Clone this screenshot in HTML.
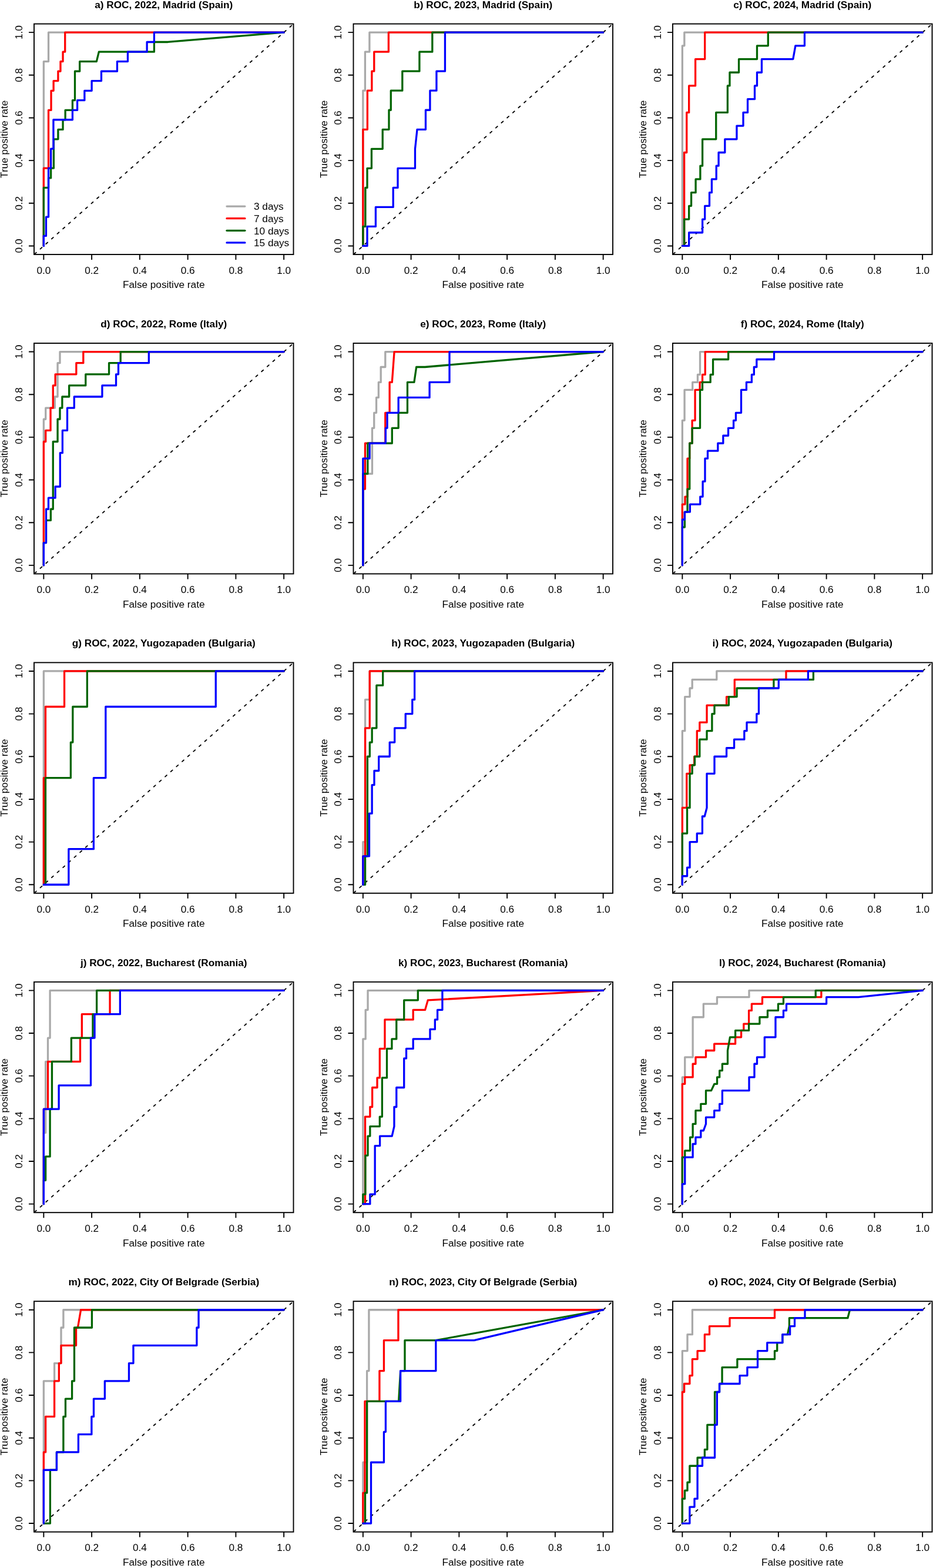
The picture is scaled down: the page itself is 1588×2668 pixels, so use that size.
<!DOCTYPE html><html><head><meta charset="utf-8"><title>ROC curves</title><style>html,body{margin:0;padding:0;background:#fff;width:1588px;height:2668px;overflow:hidden}svg{display:block}text{font-family:"Liberation Sans",Arial,Helvetica,sans-serif;fill:#000}</style></head><body>
<svg width="1588" height="2668" viewBox="0 0 1588 2668">
<rect width="100%" height="100%" fill="#fff"/>
<g><text x="278.75" y="13.6" text-anchor="middle" font-weight="bold" font-size="17.2">a) ROC, 2022, Madrid (Spain)</text><line x1="58" y1="433" x2="499.5" y2="40.6" stroke="#000" stroke-width="1.85" stroke-linecap="round" stroke-dasharray="3.9 9.02" stroke-dashoffset="-1.2"/><g fill="none" stroke-width="3.3" stroke-linejoin="round" stroke-linecap="round" clip-path="url(#c0)"><path d="M74.35 418.47 L74.35 104.55 L82.53 104.55 L82.53 55.13 L483.15 55.13" stroke="#a9a9a9"/><path d="M74.35 418.47 L74.35 286.21 L82.53 286.21 L82.53 187.39 L87.02 187.39 L87.02 154.32 L91.11 154.32 L91.11 137.61 L98.88 137.61 L98.88 121.26 L102.97 121.26 L102.97 104.55 L107.06 104.55 L107.06 88.2 L110.73 88.2 L110.73 55.13 L483.15 55.13" stroke="#ff0000"/><path d="M74.35 418.47 L74.35 319.28 L82.53 319.28 L82.53 302.93 L86.62 302.93 L86.62 286.21 L91.4 286.21 L91.4 236.8 L98.88 236.8 L98.88 220.45 L107.06 220.45 L107.06 203.74 L111.14 203.74 L111.14 187.39 L123.41 187.39 L123.41 170.67 L127.5 170.67 L127.5 121.26 L135.67 121.26 L135.67 104.55 L164.29 104.55 L168.38 88.2 L262.4 88.2 L262.4 71.48 L285.7 71.48 L483.15 55.13" stroke="#006400"/><path d="M74.35 418.47 L74.35 401.39 L78.44 401.39 L78.44 369.05 L82.53 369.05 L82.53 286.21 L86.62 286.21 L86.62 253.15 L90.91 253.15 L90.91 203.74 L123.41 203.74 L123.41 187.39 L131.58 187.39 L131.58 170.67 L143.85 170.67 L143.85 154.32 L156.11 154.32 L156.11 137.61 L172.46 137.61 L172.46 121.26 L199.44 121.26 L199.44 104.55 L217.43 104.55 L217.43 88.2 L250.13 88.2 L250.13 71.48 L262.4 71.48 L262.4 55.13 L483.15 55.13" stroke="#0000ff"/></g><clipPath id="c0"><rect x="58" y="40.6" width="441.5" height="392.4"/></clipPath><rect x="58" y="40.6" width="441.5" height="392.4" fill="none" stroke="#000" stroke-width="1.9"/><path d="M74.35 433V442M58 418.47H49M156.11 433V442M58 345.8H49M237.87 433V442M58 273.13H49M319.63 433V442M58 200.47H49M401.39 433V442M58 127.8H49M483.15 433V442M58 55.13H49" stroke="#000" stroke-width="1.9" fill="none"/><text x="74.35" y="465.8" text-anchor="middle" font-size="17.2">0.0</text><text transform="translate(37.8 418.47) rotate(-90)" text-anchor="middle" font-size="17.2">0.0</text><text x="156.11" y="465.8" text-anchor="middle" font-size="17.2">0.2</text><text transform="translate(37.8 345.8) rotate(-90)" text-anchor="middle" font-size="17.2">0.2</text><text x="237.87" y="465.8" text-anchor="middle" font-size="17.2">0.4</text><text transform="translate(37.8 273.13) rotate(-90)" text-anchor="middle" font-size="17.2">0.4</text><text x="319.63" y="465.8" text-anchor="middle" font-size="17.2">0.6</text><text transform="translate(37.8 200.47) rotate(-90)" text-anchor="middle" font-size="17.2">0.6</text><text x="401.39" y="465.8" text-anchor="middle" font-size="17.2">0.8</text><text transform="translate(37.8 127.8) rotate(-90)" text-anchor="middle" font-size="17.2">0.8</text><text x="483.15" y="465.8" text-anchor="middle" font-size="17.2">1.0</text><text transform="translate(37.8 55.13) rotate(-90)" text-anchor="middle" font-size="17.2">1.0</text><text x="278.75" y="490.3" text-anchor="middle" font-size="17.2">False positive rate</text><text transform="translate(13 236.8) rotate(-90)" text-anchor="middle" font-size="17.2">True positive rate</text><line x1="386" y1="351.1" x2="416.9" y2="351.1" stroke="#a9a9a9" stroke-width="3.3" stroke-linecap="round"/><text x="432" y="357.3" font-size="17.2">3 days</text><line x1="386" y1="371.7" x2="416.9" y2="371.7" stroke="#ff0000" stroke-width="3.3" stroke-linecap="round"/><text x="432" y="377.9" font-size="17.2">7 days</text><line x1="386" y1="392.3" x2="416.9" y2="392.3" stroke="#006400" stroke-width="3.3" stroke-linecap="round"/><text x="432" y="398.5" font-size="17.2">10 days</text><line x1="386" y1="412.9" x2="416.9" y2="412.9" stroke="#0000ff" stroke-width="3.3" stroke-linecap="round"/><text x="432" y="419.1" font-size="17.2">15 days</text></g>
<g><text x="822.25" y="13.6" text-anchor="middle" font-weight="bold" font-size="17.2">b) ROC, 2023, Madrid (Spain)</text><line x1="601.5" y1="433" x2="1043" y2="40.6" stroke="#000" stroke-width="1.85" stroke-linecap="round" stroke-dasharray="3.9 9.02" stroke-dashoffset="-1.2"/><g fill="none" stroke-width="3.3" stroke-linejoin="round" stroke-linecap="round" clip-path="url(#c1)"><path d="M617.85 418.47 L617.85 154.22 L621.41 154.22 L621.41 88.16 L628.89 88.16 L628.89 55.13 L1026.65 55.13" stroke="#a9a9a9"/><path d="M617.85 418.47 L617.85 220.28 L625.33 220.28 L625.33 154.22 L632.85 154.22 L632.85 121.19 L636.78 121.19 L636.78 88.16 L661.35 88.16 L661.35 55.13 L1026.65 55.13" stroke="#ff0000"/><path d="M617.85 418.47 L617.85 385.44 L621.9 385.44 L621.9 319.38 L625.01 319.38 L625.01 286.35 L632.4 286.35 L632.4 253.32 L651.21 253.32 L651.21 220.28 L662 220.28 L662 187.25 L665.27 187.25 L665.27 154.22 L684.81 154.22 L684.81 121.19 L713.92 121.19 L713.92 88.16 L735.83 88.16 L735.83 55.13 L1026.65 55.13" stroke="#006400"/><path d="M617.85 418.47 L625.01 418.47 L625.01 385.44 L639.4 385.44 L639.4 352.41 L669.2 352.41 L669.2 319.38 L677 319.38 L677 286.35 L706.48 286.35 L706.48 253.32 L710.04 220.28 L724.47 220.28 L724.47 187.25 L731.91 187.25 L731.91 154.22 L742.94 154.22 L742.94 121.19 L757.46 121.19 L757.46 55.13 L1026.65 55.13" stroke="#0000ff"/></g><clipPath id="c1"><rect x="601.5" y="40.6" width="441.5" height="392.4"/></clipPath><rect x="601.5" y="40.6" width="441.5" height="392.4" fill="none" stroke="#000" stroke-width="1.9"/><path d="M617.85 433V442M601.5 418.47H592.5M699.61 433V442M601.5 345.8H592.5M781.37 433V442M601.5 273.13H592.5M863.13 433V442M601.5 200.47H592.5M944.89 433V442M601.5 127.8H592.5M1026.65 433V442M601.5 55.13H592.5" stroke="#000" stroke-width="1.9" fill="none"/><text x="617.85" y="465.8" text-anchor="middle" font-size="17.2">0.0</text><text transform="translate(581.3 418.47) rotate(-90)" text-anchor="middle" font-size="17.2">0.0</text><text x="699.61" y="465.8" text-anchor="middle" font-size="17.2">0.2</text><text transform="translate(581.3 345.8) rotate(-90)" text-anchor="middle" font-size="17.2">0.2</text><text x="781.37" y="465.8" text-anchor="middle" font-size="17.2">0.4</text><text transform="translate(581.3 273.13) rotate(-90)" text-anchor="middle" font-size="17.2">0.4</text><text x="863.13" y="465.8" text-anchor="middle" font-size="17.2">0.6</text><text transform="translate(581.3 200.47) rotate(-90)" text-anchor="middle" font-size="17.2">0.6</text><text x="944.89" y="465.8" text-anchor="middle" font-size="17.2">0.8</text><text transform="translate(581.3 127.8) rotate(-90)" text-anchor="middle" font-size="17.2">0.8</text><text x="1026.65" y="465.8" text-anchor="middle" font-size="17.2">1.0</text><text transform="translate(581.3 55.13) rotate(-90)" text-anchor="middle" font-size="17.2">1.0</text><text x="822.25" y="490.3" text-anchor="middle" font-size="17.2">False positive rate</text><text transform="translate(556.5 236.8) rotate(-90)" text-anchor="middle" font-size="17.2">True positive rate</text></g>
<g><text x="1365.75" y="13.6" text-anchor="middle" font-weight="bold" font-size="17.2">c) ROC, 2024, Madrid (Spain)</text><line x1="1145" y1="433" x2="1586.5" y2="40.6" stroke="#000" stroke-width="1.85" stroke-linecap="round" stroke-dasharray="3.9 9.02" stroke-dashoffset="-1.2"/><g fill="none" stroke-width="3.3" stroke-linejoin="round" stroke-linecap="round" clip-path="url(#c2)"><path d="M1161.35 418.47 L1161.35 77.84 L1164.83 77.84 L1164.83 55.13 L1570.15 55.13" stroke="#a9a9a9"/><path d="M1161.35 418.47 L1164.62 418.47 L1164.62 259.51 L1168.75 259.51 L1168.75 191.38 L1172.68 191.38 L1172.68 145.97 L1183.59 145.97 L1183.59 100.55 L1199.7 100.55 L1199.7 55.13 L1570.15 55.13" stroke="#ff0000"/><path d="M1161.35 418.47 L1164.62 418.47 L1164.62 373.05 L1172.68 373.05 L1172.68 350.34 L1176.56 350.34 L1176.56 327.63 L1184.08 327.63 L1184.08 304.93 L1191.89 304.93 L1191.89 282.22 L1195.61 282.22 L1195.61 236.8 L1218.75 236.8 L1218.75 191.38 L1238.37 191.38 L1238.37 145.97 L1241.97 145.97 L1241.97 123.26 L1257.54 123.26 L1257.54 100.55 L1288.49 100.55 L1288.49 77.84 L1307.29 77.84 L1307.29 55.13 L1570.15 55.13" stroke="#006400"/><path d="M1161.35 418.47 L1172.68 418.47 L1172.68 395.76 L1195.61 395.76 L1195.61 373.05 L1199.7 373.05 L1199.7 350.34 L1207.5 350.34 L1207.5 327.63 L1211.39 327.63 L1211.39 304.93 L1219.2 304.93 L1219.2 282.22 L1223.08 282.22 L1223.08 259.51 L1233.83 259.51 L1233.83 236.8 L1253.94 236.8 L1253.94 214.09 L1265.02 214.09 L1265.02 191.38 L1272.54 191.38 L1272.54 168.68 L1284.52 168.68 L1284.52 145.97 L1288.49 145.97 L1288.49 123.26 L1296.46 123.26 L1296.46 100.55 L1349.81 100.55 L1353.89 77.84 L1369.43 77.84 L1369.43 55.13 L1570.15 55.13" stroke="#0000ff"/></g><clipPath id="c2"><rect x="1145" y="40.6" width="441.5" height="392.4"/></clipPath><rect x="1145" y="40.6" width="441.5" height="392.4" fill="none" stroke="#000" stroke-width="1.9"/><path d="M1161.35 433V442M1145 418.47H1136M1243.11 433V442M1145 345.8H1136M1324.87 433V442M1145 273.13H1136M1406.63 433V442M1145 200.47H1136M1488.39 433V442M1145 127.8H1136M1570.15 433V442M1145 55.13H1136" stroke="#000" stroke-width="1.9" fill="none"/><text x="1161.35" y="465.8" text-anchor="middle" font-size="17.2">0.0</text><text transform="translate(1124.8 418.47) rotate(-90)" text-anchor="middle" font-size="17.2">0.0</text><text x="1243.11" y="465.8" text-anchor="middle" font-size="17.2">0.2</text><text transform="translate(1124.8 345.8) rotate(-90)" text-anchor="middle" font-size="17.2">0.2</text><text x="1324.87" y="465.8" text-anchor="middle" font-size="17.2">0.4</text><text transform="translate(1124.8 273.13) rotate(-90)" text-anchor="middle" font-size="17.2">0.4</text><text x="1406.63" y="465.8" text-anchor="middle" font-size="17.2">0.6</text><text transform="translate(1124.8 200.47) rotate(-90)" text-anchor="middle" font-size="17.2">0.6</text><text x="1488.39" y="465.8" text-anchor="middle" font-size="17.2">0.8</text><text transform="translate(1124.8 127.8) rotate(-90)" text-anchor="middle" font-size="17.2">0.8</text><text x="1570.15" y="465.8" text-anchor="middle" font-size="17.2">1.0</text><text transform="translate(1124.8 55.13) rotate(-90)" text-anchor="middle" font-size="17.2">1.0</text><text x="1365.75" y="490.3" text-anchor="middle" font-size="17.2">False positive rate</text><text transform="translate(1100 236.8) rotate(-90)" text-anchor="middle" font-size="17.2">True positive rate</text></g>
<g><text x="278.75" y="557" text-anchor="middle" font-weight="bold" font-size="17.2">d) ROC, 2022, Rome (Italy)</text><line x1="58" y1="976.4" x2="499.5" y2="584" stroke="#000" stroke-width="1.85" stroke-linecap="round" stroke-dasharray="3.9 9.02" stroke-dashoffset="-1.2"/><g fill="none" stroke-width="3.3" stroke-linejoin="round" stroke-linecap="round" clip-path="url(#c3)"><path d="M74.35 961.87 L74.35 713.27 L77.74 713.27 L77.74 694.15 L93.36 694.15 L93.36 675.02 L98.06 675.02 L98.06 617.66 L101.99 617.66 L101.99 598.53 L483.15 598.53" stroke="#a9a9a9"/><path d="M74.35 961.87 L74.35 751.52 L77.74 751.52 L77.74 732.39 L86.04 732.39 L86.04 694.15 L90.25 694.15 L90.25 655.9 L94.14 655.9 L94.14 636.78 L129.83 636.78 L129.83 617.66 L141.8 617.66 L141.8 598.53 L483.15 598.53" stroke="#ff0000"/><path d="M74.35 961.87 L74.35 923.62 L78.44 923.62 L78.44 885.38 L86.33 885.38 L86.33 866.25 L90.25 866.25 L90.25 751.52 L98.06 751.52 L98.06 713.27 L101.99 713.27 L101.99 694.15 L105.87 694.15 L105.87 675.02 L117.68 675.02 L117.68 655.9 L145.77 655.9 L145.77 636.78 L185.54 636.78 L185.54 617.66 L205.17 617.66 L205.17 598.53 L483.15 598.53" stroke="#006400"/><path d="M74.35 961.87 L74.35 923.62 L78.52 923.62 L78.52 866.25 L82.45 866.25 L82.45 847.13 L94.14 847.13 L94.14 828.01 L102.31 828.01 L102.31 770.64 L106.36 770.64 L106.36 732.39 L114.5 732.39 L114.5 694.15 L126.27 694.15 L126.27 675.02 L173.93 675.02 L173.93 655.9 L197.52 655.9 L197.52 636.78 L201.49 636.78 L201.49 617.66 L253.32 617.66 L253.32 598.53 L483.15 598.53" stroke="#0000ff"/></g><clipPath id="c3"><rect x="58" y="584" width="441.5" height="392.4"/></clipPath><rect x="58" y="584" width="441.5" height="392.4" fill="none" stroke="#000" stroke-width="1.9"/><path d="M74.35 976.4V985.4M58 961.87H49M156.11 976.4V985.4M58 889.2H49M237.87 976.4V985.4M58 816.53H49M319.63 976.4V985.4M58 743.87H49M401.39 976.4V985.4M58 671.2H49M483.15 976.4V985.4M58 598.53H49" stroke="#000" stroke-width="1.9" fill="none"/><text x="74.35" y="1009.2" text-anchor="middle" font-size="17.2">0.0</text><text transform="translate(37.8 961.87) rotate(-90)" text-anchor="middle" font-size="17.2">0.0</text><text x="156.11" y="1009.2" text-anchor="middle" font-size="17.2">0.2</text><text transform="translate(37.8 889.2) rotate(-90)" text-anchor="middle" font-size="17.2">0.2</text><text x="237.87" y="1009.2" text-anchor="middle" font-size="17.2">0.4</text><text transform="translate(37.8 816.53) rotate(-90)" text-anchor="middle" font-size="17.2">0.4</text><text x="319.63" y="1009.2" text-anchor="middle" font-size="17.2">0.6</text><text transform="translate(37.8 743.87) rotate(-90)" text-anchor="middle" font-size="17.2">0.6</text><text x="401.39" y="1009.2" text-anchor="middle" font-size="17.2">0.8</text><text transform="translate(37.8 671.2) rotate(-90)" text-anchor="middle" font-size="17.2">0.8</text><text x="483.15" y="1009.2" text-anchor="middle" font-size="17.2">1.0</text><text transform="translate(37.8 598.53) rotate(-90)" text-anchor="middle" font-size="17.2">1.0</text><text x="278.75" y="1033.7" text-anchor="middle" font-size="17.2">False positive rate</text><text transform="translate(13 780.2) rotate(-90)" text-anchor="middle" font-size="17.2">True positive rate</text></g>
<g><text x="822.25" y="557" text-anchor="middle" font-weight="bold" font-size="17.2">e) ROC, 2023, Rome (Italy)</text><line x1="601.5" y1="976.4" x2="1043" y2="584" stroke="#000" stroke-width="1.85" stroke-linecap="round" stroke-dasharray="3.9 9.02" stroke-dashoffset="-1.2"/><g fill="none" stroke-width="3.3" stroke-linejoin="round" stroke-linecap="round" clip-path="url(#c4)"><path d="M617.85 961.87 L617.85 806.15 L633.47 806.15 L633.47 728.3 L636.74 728.3 L636.74 702.34 L640.54 702.34 L640.54 676.39 L644.34 676.39 L644.34 650.44 L648.18 650.44 L648.18 624.49 L655.79 624.49 L655.79 598.53 L1026.65 598.53" stroke="#a9a9a9"/><path d="M617.85 961.87 L617.85 832.1 L621.45 832.1 L621.45 754.25 L655.79 754.25 L655.79 702.34 L663.11 702.34 L663.11 650.44 L667.28 650.44 L671.08 598.53 L1026.65 598.53" stroke="#ff0000"/><path d="M617.85 961.87 L617.85 806.15 L625.82 806.15 L625.82 754.25 L667.28 754.25 L667.28 728.3 L678.15 728.3 L678.15 702.34 L693.44 702.34 L693.44 650.44 L704.88 650.44 L708.69 624.49 L723.32 624.49 L1026.65 598.53" stroke="#006400"/><path d="M617.85 961.87 L617.85 780.2 L629.09 780.2 L629.09 754.25 L656.36 754.25 L656.36 728.3 L659.06 728.3 L659.06 702.34 L678.15 702.34 L678.15 676.39 L731.09 676.39 L731.09 650.44 L765.02 650.44 L765.02 598.53 L1026.65 598.53" stroke="#0000ff"/></g><clipPath id="c4"><rect x="601.5" y="584" width="441.5" height="392.4"/></clipPath><rect x="601.5" y="584" width="441.5" height="392.4" fill="none" stroke="#000" stroke-width="1.9"/><path d="M617.85 976.4V985.4M601.5 961.87H592.5M699.61 976.4V985.4M601.5 889.2H592.5M781.37 976.4V985.4M601.5 816.53H592.5M863.13 976.4V985.4M601.5 743.87H592.5M944.89 976.4V985.4M601.5 671.2H592.5M1026.65 976.4V985.4M601.5 598.53H592.5" stroke="#000" stroke-width="1.9" fill="none"/><text x="617.85" y="1009.2" text-anchor="middle" font-size="17.2">0.0</text><text transform="translate(581.3 961.87) rotate(-90)" text-anchor="middle" font-size="17.2">0.0</text><text x="699.61" y="1009.2" text-anchor="middle" font-size="17.2">0.2</text><text transform="translate(581.3 889.2) rotate(-90)" text-anchor="middle" font-size="17.2">0.2</text><text x="781.37" y="1009.2" text-anchor="middle" font-size="17.2">0.4</text><text transform="translate(581.3 816.53) rotate(-90)" text-anchor="middle" font-size="17.2">0.4</text><text x="863.13" y="1009.2" text-anchor="middle" font-size="17.2">0.6</text><text transform="translate(581.3 743.87) rotate(-90)" text-anchor="middle" font-size="17.2">0.6</text><text x="944.89" y="1009.2" text-anchor="middle" font-size="17.2">0.8</text><text transform="translate(581.3 671.2) rotate(-90)" text-anchor="middle" font-size="17.2">0.8</text><text x="1026.65" y="1009.2" text-anchor="middle" font-size="17.2">1.0</text><text transform="translate(581.3 598.53) rotate(-90)" text-anchor="middle" font-size="17.2">1.0</text><text x="822.25" y="1033.7" text-anchor="middle" font-size="17.2">False positive rate</text><text transform="translate(556.5 780.2) rotate(-90)" text-anchor="middle" font-size="17.2">True positive rate</text></g>
<g><text x="1365.75" y="557" text-anchor="middle" font-weight="bold" font-size="17.2">f) ROC, 2024, Rome (Italy)</text><line x1="1145" y1="976.4" x2="1586.5" y2="584" stroke="#000" stroke-width="1.85" stroke-linecap="round" stroke-dasharray="3.9 9.02" stroke-dashoffset="-1.2"/><g fill="none" stroke-width="3.3" stroke-linejoin="round" stroke-linecap="round" clip-path="url(#c5)"><path d="M1161.35 961.87 L1161.35 715.32 L1165.07 715.32 L1165.07 663.41 L1178.73 663.41 L1178.73 650.44 L1187.43 650.44 L1187.43 637.46 L1191.52 637.46 L1191.52 598.53 L1570.15 598.53" stroke="#a9a9a9"/><path d="M1161.35 961.87 L1161.35 858.06 L1166.01 858.06 L1166.01 845.08 L1170.06 845.08 L1170.06 780.2 L1173.74 780.2 L1173.74 754.25 L1178.11 754.25 L1178.11 715.32 L1183.06 715.32 L1183.06 663.41 L1191.15 663.41 L1191.15 650.44 L1195.53 650.44 L1195.53 637.46 L1200.23 637.46 L1200.23 598.53 L1570.15 598.53" stroke="#ff0000"/><path d="M1161.35 961.87 L1161.35 896.99 L1165.4 896.99 L1165.4 871.03 L1170.06 871.03 L1170.06 832.1 L1173.74 832.1 L1173.74 754.25 L1178.11 754.25 L1178.11 728.3 L1191.52 728.3 L1191.52 663.41 L1195.53 663.41 L1195.53 650.44 L1209.18 650.44 L1209.18 637.46 L1213.56 637.46 L1213.56 611.51 L1239.64 611.51 L1239.64 598.53 L1570.15 598.53" stroke="#006400"/><path d="M1161.35 961.87 L1161.35 884.01 L1165.4 884.01 L1165.4 871.03 L1174.39 871.03 L1174.39 858.06 L1191.77 858.06 L1191.77 845.08 L1196.1 845.08 L1196.1 819.13 L1199.98 819.13 L1199.98 780.2 L1204.48 780.2 L1204.48 767.22 L1221.85 767.22 L1221.85 754.25 L1230.85 754.25 L1230.85 741.27 L1239.55 741.27 L1239.55 728.3 L1248.55 728.3 L1248.55 715.32 L1252.43 715.32 L1252.43 702.34 L1261.51 702.34 L1261.51 663.41 L1270.42 663.41 L1270.42 650.44 L1279.41 650.44 L1279.41 637.46 L1283.34 637.46 L1283.34 624.49 L1287.83 624.49 L1287.83 611.51 L1317.51 611.51 L1317.51 598.53 L1570.15 598.53" stroke="#0000ff"/></g><clipPath id="c5"><rect x="1145" y="584" width="441.5" height="392.4"/></clipPath><rect x="1145" y="584" width="441.5" height="392.4" fill="none" stroke="#000" stroke-width="1.9"/><path d="M1161.35 976.4V985.4M1145 961.87H1136M1243.11 976.4V985.4M1145 889.2H1136M1324.87 976.4V985.4M1145 816.53H1136M1406.63 976.4V985.4M1145 743.87H1136M1488.39 976.4V985.4M1145 671.2H1136M1570.15 976.4V985.4M1145 598.53H1136" stroke="#000" stroke-width="1.9" fill="none"/><text x="1161.35" y="1009.2" text-anchor="middle" font-size="17.2">0.0</text><text transform="translate(1124.8 961.87) rotate(-90)" text-anchor="middle" font-size="17.2">0.0</text><text x="1243.11" y="1009.2" text-anchor="middle" font-size="17.2">0.2</text><text transform="translate(1124.8 889.2) rotate(-90)" text-anchor="middle" font-size="17.2">0.2</text><text x="1324.87" y="1009.2" text-anchor="middle" font-size="17.2">0.4</text><text transform="translate(1124.8 816.53) rotate(-90)" text-anchor="middle" font-size="17.2">0.4</text><text x="1406.63" y="1009.2" text-anchor="middle" font-size="17.2">0.6</text><text transform="translate(1124.8 743.87) rotate(-90)" text-anchor="middle" font-size="17.2">0.6</text><text x="1488.39" y="1009.2" text-anchor="middle" font-size="17.2">0.8</text><text transform="translate(1124.8 671.2) rotate(-90)" text-anchor="middle" font-size="17.2">0.8</text><text x="1570.15" y="1009.2" text-anchor="middle" font-size="17.2">1.0</text><text transform="translate(1124.8 598.53) rotate(-90)" text-anchor="middle" font-size="17.2">1.0</text><text x="1365.75" y="1033.7" text-anchor="middle" font-size="17.2">False positive rate</text><text transform="translate(1100 780.2) rotate(-90)" text-anchor="middle" font-size="17.2">True positive rate</text></g>
<g><text x="278.75" y="1100.4" text-anchor="middle" font-weight="bold" font-size="17.2">g) ROC, 2022, Yugozapaden (Bulgaria)</text><line x1="58" y1="1519.8" x2="499.5" y2="1127.4" stroke="#000" stroke-width="1.85" stroke-linecap="round" stroke-dasharray="3.9 9.02" stroke-dashoffset="-1.2"/><g fill="none" stroke-width="3.3" stroke-linejoin="round" stroke-linecap="round" clip-path="url(#c6)"><path d="M74.35 1505.27 L74.35 1141.93 L483.15 1141.93" stroke="#a9a9a9"/><path d="M74.35 1505.27 L74.35 1323.6 L77.46 1323.6 L77.46 1202.49 L109.55 1202.49 L109.55 1141.93 L483.15 1141.93" stroke="#ff0000"/><path d="M74.35 1505.27 L77.46 1505.27 L77.46 1323.6 L120.38 1323.6 L120.38 1263.04 L123.82 1263.04 L123.82 1202.49 L148.34 1202.49 L148.34 1141.93 L483.15 1141.93" stroke="#006400"/><path d="M74.35 1505.27 L116.87 1505.27 L116.87 1444.71 L159.38 1444.71 L159.38 1323.6 L179.82 1323.6 L179.82 1202.49 L367.25 1202.49 L367.25 1141.93 L483.15 1141.93" stroke="#0000ff"/></g><clipPath id="c6"><rect x="58" y="1127.4" width="441.5" height="392.4"/></clipPath><rect x="58" y="1127.4" width="441.5" height="392.4" fill="none" stroke="#000" stroke-width="1.9"/><path d="M74.35 1519.8V1528.8M58 1505.27H49M156.11 1519.8V1528.8M58 1432.6H49M237.87 1519.8V1528.8M58 1359.93H49M319.63 1519.8V1528.8M58 1287.27H49M401.39 1519.8V1528.8M58 1214.6H49M483.15 1519.8V1528.8M58 1141.93H49" stroke="#000" stroke-width="1.9" fill="none"/><text x="74.35" y="1552.6" text-anchor="middle" font-size="17.2">0.0</text><text transform="translate(37.8 1505.27) rotate(-90)" text-anchor="middle" font-size="17.2">0.0</text><text x="156.11" y="1552.6" text-anchor="middle" font-size="17.2">0.2</text><text transform="translate(37.8 1432.6) rotate(-90)" text-anchor="middle" font-size="17.2">0.2</text><text x="237.87" y="1552.6" text-anchor="middle" font-size="17.2">0.4</text><text transform="translate(37.8 1359.93) rotate(-90)" text-anchor="middle" font-size="17.2">0.4</text><text x="319.63" y="1552.6" text-anchor="middle" font-size="17.2">0.6</text><text transform="translate(37.8 1287.27) rotate(-90)" text-anchor="middle" font-size="17.2">0.6</text><text x="401.39" y="1552.6" text-anchor="middle" font-size="17.2">0.8</text><text transform="translate(37.8 1214.6) rotate(-90)" text-anchor="middle" font-size="17.2">0.8</text><text x="483.15" y="1552.6" text-anchor="middle" font-size="17.2">1.0</text><text transform="translate(37.8 1141.93) rotate(-90)" text-anchor="middle" font-size="17.2">1.0</text><text x="278.75" y="1577.1" text-anchor="middle" font-size="17.2">False positive rate</text><text transform="translate(13 1323.6) rotate(-90)" text-anchor="middle" font-size="17.2">True positive rate</text></g>
<g><text x="822.25" y="1100.4" text-anchor="middle" font-weight="bold" font-size="17.2">h) ROC, 2023, Yugozapaden (Bulgaria)</text><line x1="601.5" y1="1519.8" x2="1043" y2="1127.4" stroke="#000" stroke-width="1.85" stroke-linecap="round" stroke-dasharray="3.9 9.02" stroke-dashoffset="-1.2"/><g fill="none" stroke-width="3.3" stroke-linejoin="round" stroke-linecap="round" clip-path="url(#c7)"><path d="M617.85 1505.27 L617.85 1432.6 L621.57 1432.6 L621.57 1190.38 L629.22 1190.38 L629.22 1141.93 L1026.65 1141.93" stroke="#a9a9a9"/><path d="M617.85 1505.27 L617.85 1456.82 L621.57 1456.82 L621.57 1238.82 L629.22 1238.82 L629.22 1141.93 L1026.65 1141.93" stroke="#ff0000"/><path d="M617.85 1505.27 L621.57 1505.27 L621.57 1456.82 L625.41 1456.82 L625.41 1287.27 L629.3 1287.27 L629.3 1263.04 L633.14 1263.04 L633.14 1238.82 L640.87 1238.82 L640.87 1166.16 L651.66 1166.16 L651.66 1141.93 L1026.65 1141.93" stroke="#006400"/><path d="M617.85 1505.27 L617.85 1456.82 L628.48 1456.82 L628.48 1384.16 L633.14 1384.16 L633.14 1335.71 L636.98 1335.71 L636.98 1311.49 L644.71 1311.49 L644.71 1287.27 L663.23 1287.27 L663.23 1263.04 L671.69 1263.04 L671.69 1238.82 L690.21 1238.82 L690.21 1214.6 L701.78 1214.6 L701.78 1190.38 L705.62 1190.38 L705.62 1141.93 L1026.65 1141.93" stroke="#0000ff"/></g><clipPath id="c7"><rect x="601.5" y="1127.4" width="441.5" height="392.4"/></clipPath><rect x="601.5" y="1127.4" width="441.5" height="392.4" fill="none" stroke="#000" stroke-width="1.9"/><path d="M617.85 1519.8V1528.8M601.5 1505.27H592.5M699.61 1519.8V1528.8M601.5 1432.6H592.5M781.37 1519.8V1528.8M601.5 1359.93H592.5M863.13 1519.8V1528.8M601.5 1287.27H592.5M944.89 1519.8V1528.8M601.5 1214.6H592.5M1026.65 1519.8V1528.8M601.5 1141.93H592.5" stroke="#000" stroke-width="1.9" fill="none"/><text x="617.85" y="1552.6" text-anchor="middle" font-size="17.2">0.0</text><text transform="translate(581.3 1505.27) rotate(-90)" text-anchor="middle" font-size="17.2">0.0</text><text x="699.61" y="1552.6" text-anchor="middle" font-size="17.2">0.2</text><text transform="translate(581.3 1432.6) rotate(-90)" text-anchor="middle" font-size="17.2">0.2</text><text x="781.37" y="1552.6" text-anchor="middle" font-size="17.2">0.4</text><text transform="translate(581.3 1359.93) rotate(-90)" text-anchor="middle" font-size="17.2">0.4</text><text x="863.13" y="1552.6" text-anchor="middle" font-size="17.2">0.6</text><text transform="translate(581.3 1287.27) rotate(-90)" text-anchor="middle" font-size="17.2">0.6</text><text x="944.89" y="1552.6" text-anchor="middle" font-size="17.2">0.8</text><text transform="translate(581.3 1214.6) rotate(-90)" text-anchor="middle" font-size="17.2">0.8</text><text x="1026.65" y="1552.6" text-anchor="middle" font-size="17.2">1.0</text><text transform="translate(581.3 1141.93) rotate(-90)" text-anchor="middle" font-size="17.2">1.0</text><text x="822.25" y="1577.1" text-anchor="middle" font-size="17.2">False positive rate</text><text transform="translate(556.5 1323.6) rotate(-90)" text-anchor="middle" font-size="17.2">True positive rate</text></g>
<g><text x="1365.75" y="1100.4" text-anchor="middle" font-weight="bold" font-size="17.2">i) ROC, 2024, Yugozapaden (Bulgaria)</text><line x1="1145" y1="1519.8" x2="1586.5" y2="1127.4" stroke="#000" stroke-width="1.85" stroke-linecap="round" stroke-dasharray="3.9 9.02" stroke-dashoffset="-1.2"/><g fill="none" stroke-width="3.3" stroke-linejoin="round" stroke-linecap="round" clip-path="url(#c8)"><path d="M1161.35 1505.27 L1161.35 1243.67 L1165.73 1243.67 L1165.73 1185.53 L1174.07 1185.53 L1174.07 1171 L1178.19 1171 L1178.19 1156.47 L1219.81 1156.47 L1219.81 1141.93 L1570.15 1141.93" stroke="#a9a9a9"/><path d="M1161.35 1505.27 L1161.35 1374.47 L1168.75 1374.47 L1168.75 1316.33 L1174.07 1316.33 L1174.07 1301.8 L1181.71 1301.8 L1181.71 1287.27 L1186.29 1287.27 L1186.29 1243.67 L1190.83 1243.67 L1190.83 1229.13 L1203.05 1229.13 L1203.05 1200.07 L1236.57 1200.07 L1236.57 1185.53 L1250.27 1185.53 L1250.27 1156.47 L1337.95 1156.47 L1337.95 1141.93 L1570.15 1141.93" stroke="#ff0000"/><path d="M1161.35 1505.27 L1161.35 1418.07 L1169.53 1418.07 L1169.53 1374.47 L1174.07 1374.47 L1174.07 1316.33 L1178.19 1316.33 L1178.19 1301.8 L1182.49 1301.8 L1182.49 1287.27 L1190.83 1287.27 L1190.83 1258.2 L1203.05 1258.2 L1203.05 1243.67 L1211.88 1243.67 L1211.88 1214.6 L1216.01 1214.6 L1216.01 1200.07 L1240.37 1200.07 L1240.37 1185.53 L1254.07 1185.53 L1254.07 1171 L1316.9 1171 L1316.9 1156.47 L1384.39 1156.47 L1384.39 1141.93 L1570.15 1141.93" stroke="#006400"/><path d="M1161.35 1505.27 L1161.35 1490.73 L1169.53 1490.73 L1169.53 1476.2 L1174.07 1476.2 L1174.07 1432.6 L1186.29 1432.6 L1186.29 1418.07 L1195.4 1418.07 L1195.4 1389 L1199.25 1389 L1203.05 1374.47 L1203.05 1316.33 L1216.01 1316.33 L1216.01 1287.27 L1236.57 1287.27 L1236.57 1272.73 L1249.57 1272.73 L1249.57 1258.2 L1266.82 1258.2 L1266.82 1243.67 L1271.03 1243.67 L1271.03 1229.13 L1287.83 1229.13 L1287.83 1214.6 L1291.43 1214.6 L1291.43 1171 L1325.28 1171 L1325.28 1156.47 L1375.4 1156.47 L1375.4 1141.93 L1570.15 1141.93" stroke="#0000ff"/></g><clipPath id="c8"><rect x="1145" y="1127.4" width="441.5" height="392.4"/></clipPath><rect x="1145" y="1127.4" width="441.5" height="392.4" fill="none" stroke="#000" stroke-width="1.9"/><path d="M1161.35 1519.8V1528.8M1145 1505.27H1136M1243.11 1519.8V1528.8M1145 1432.6H1136M1324.87 1519.8V1528.8M1145 1359.93H1136M1406.63 1519.8V1528.8M1145 1287.27H1136M1488.39 1519.8V1528.8M1145 1214.6H1136M1570.15 1519.8V1528.8M1145 1141.93H1136" stroke="#000" stroke-width="1.9" fill="none"/><text x="1161.35" y="1552.6" text-anchor="middle" font-size="17.2">0.0</text><text transform="translate(1124.8 1505.27) rotate(-90)" text-anchor="middle" font-size="17.2">0.0</text><text x="1243.11" y="1552.6" text-anchor="middle" font-size="17.2">0.2</text><text transform="translate(1124.8 1432.6) rotate(-90)" text-anchor="middle" font-size="17.2">0.2</text><text x="1324.87" y="1552.6" text-anchor="middle" font-size="17.2">0.4</text><text transform="translate(1124.8 1359.93) rotate(-90)" text-anchor="middle" font-size="17.2">0.4</text><text x="1406.63" y="1552.6" text-anchor="middle" font-size="17.2">0.6</text><text transform="translate(1124.8 1287.27) rotate(-90)" text-anchor="middle" font-size="17.2">0.6</text><text x="1488.39" y="1552.6" text-anchor="middle" font-size="17.2">0.8</text><text transform="translate(1124.8 1214.6) rotate(-90)" text-anchor="middle" font-size="17.2">0.8</text><text x="1570.15" y="1552.6" text-anchor="middle" font-size="17.2">1.0</text><text transform="translate(1124.8 1141.93) rotate(-90)" text-anchor="middle" font-size="17.2">1.0</text><text x="1365.75" y="1577.1" text-anchor="middle" font-size="17.2">False positive rate</text><text transform="translate(1100 1323.6) rotate(-90)" text-anchor="middle" font-size="17.2">True positive rate</text></g>
<g><text x="278.75" y="1643.8" text-anchor="middle" font-weight="bold" font-size="17.2">j) ROC, 2022, Bucharest (Romania)</text><line x1="58" y1="2063.2" x2="499.5" y2="1670.8" stroke="#000" stroke-width="1.85" stroke-linecap="round" stroke-dasharray="3.9 9.02" stroke-dashoffset="-1.2"/><g fill="none" stroke-width="3.3" stroke-linejoin="round" stroke-linecap="round" clip-path="url(#c9)"><path d="M74.35 2048.67 L74.35 1927.56 L77.62 1927.56 L77.62 1806.44 L81.51 1806.44 L81.51 1766.07 L85.1 1766.07 L85.1 1685.33 L483.15 1685.33" stroke="#a9a9a9"/><path d="M74.35 2048.67 L74.35 1887.19 L81.51 1887.19 L81.51 1806.44 L136.49 1806.44 L136.49 1766.07 L139.35 1766.07 L139.35 1725.7 L187.06 1725.7 L187.06 1685.33 L483.15 1685.33" stroke="#ff0000"/><path d="M74.35 2048.67 L74.35 2008.3 L77.62 2008.3 L77.62 1967.93 L85.1 1967.93 L85.1 1887.19 L88.46 1887.19 L88.46 1806.44 L121.36 1806.44 L121.36 1766.07 L157.95 1766.07 L157.95 1725.7 L164.61 1725.7 L164.61 1685.33 L483.15 1685.33" stroke="#006400"/><path d="M74.35 2048.67 L74.35 1887.19 L100.11 1887.19 L100.11 1846.81 L154.48 1846.81 L154.48 1766.07 L161.02 1766.07 L161.02 1725.7 L204.35 1725.7 L204.35 1685.33 L483.15 1685.33" stroke="#0000ff"/></g><clipPath id="c9"><rect x="58" y="1670.8" width="441.5" height="392.4"/></clipPath><rect x="58" y="1670.8" width="441.5" height="392.4" fill="none" stroke="#000" stroke-width="1.9"/><path d="M74.35 2063.2V2072.2M58 2048.67H49M156.11 2063.2V2072.2M58 1976H49M237.87 2063.2V2072.2M58 1903.33H49M319.63 2063.2V2072.2M58 1830.67H49M401.39 2063.2V2072.2M58 1758H49M483.15 2063.2V2072.2M58 1685.33H49" stroke="#000" stroke-width="1.9" fill="none"/><text x="74.35" y="2096" text-anchor="middle" font-size="17.2">0.0</text><text transform="translate(37.8 2048.67) rotate(-90)" text-anchor="middle" font-size="17.2">0.0</text><text x="156.11" y="2096" text-anchor="middle" font-size="17.2">0.2</text><text transform="translate(37.8 1976) rotate(-90)" text-anchor="middle" font-size="17.2">0.2</text><text x="237.87" y="2096" text-anchor="middle" font-size="17.2">0.4</text><text transform="translate(37.8 1903.33) rotate(-90)" text-anchor="middle" font-size="17.2">0.4</text><text x="319.63" y="2096" text-anchor="middle" font-size="17.2">0.6</text><text transform="translate(37.8 1830.67) rotate(-90)" text-anchor="middle" font-size="17.2">0.6</text><text x="401.39" y="2096" text-anchor="middle" font-size="17.2">0.8</text><text transform="translate(37.8 1758) rotate(-90)" text-anchor="middle" font-size="17.2">0.8</text><text x="483.15" y="2096" text-anchor="middle" font-size="17.2">1.0</text><text transform="translate(37.8 1685.33) rotate(-90)" text-anchor="middle" font-size="17.2">1.0</text><text x="278.75" y="2120.5" text-anchor="middle" font-size="17.2">False positive rate</text><text transform="translate(13 1867) rotate(-90)" text-anchor="middle" font-size="17.2">True positive rate</text></g>
<g><text x="822.25" y="1643.8" text-anchor="middle" font-weight="bold" font-size="17.2">k) ROC, 2023, Bucharest (Romania)</text><line x1="601.5" y1="2063.2" x2="1043" y2="1670.8" stroke="#000" stroke-width="1.85" stroke-linecap="round" stroke-dasharray="3.9 9.02" stroke-dashoffset="-1.2"/><g fill="none" stroke-width="3.3" stroke-linejoin="round" stroke-linecap="round" clip-path="url(#c10)"><path d="M617.85 2048.67 L617.85 1767.91 L622.19 1767.91 L622.19 1718.36 L626.03 1718.36 L626.03 1685.33 L1026.65 1685.33" stroke="#a9a9a9"/><path d="M617.85 2048.67 L621.53 2048.67 L621.53 1900.03 L629.83 1900.03 L629.83 1883.52 L633.63 1883.52 L633.63 1850.48 L642.01 1850.48 L642.01 1833.97 L646.3 1833.97 L646.3 1784.42 L654.97 1784.42 L654.97 1734.88 L703.17 1734.88 L703.17 1718.36 L723.57 1718.36 L728.23 1701.85 L1026.65 1685.33" stroke="#ff0000"/><path d="M617.85 2048.67 L617.85 2032.15 L621.9 2032.15 L621.9 1966.09 L626.03 1966.09 L626.03 1933.06 L629.83 1933.06 L629.83 1916.55 L646.3 1916.55 L646.3 1900.03 L650.39 1900.03 L650.39 1833.97 L658.49 1833.97 L658.49 1784.42 L666.91 1784.42 L666.91 1767.91 L674.76 1767.91 L674.76 1734.88 L687.72 1734.88 L687.72 1701.85 L711.3 1701.85 L711.3 1685.33 L1026.65 1685.33" stroke="#006400"/><path d="M617.85 2048.67 L629.83 2048.67 L629.83 2032.15 L638.17 2032.15 L638.17 1949.58 L646.59 1949.58 L646.59 1933.06 L667.15 1933.06 L670.95 1916.55 L670.95 1883.52 L674.76 1883.52 L674.76 1850.48 L687.72 1850.48 L687.72 1800.94 L691.52 1800.94 L691.52 1784.42 L703.17 1784.42 L703.17 1767.91 L731.95 1767.91 L731.95 1751.39 L740.33 1751.39 L740.33 1734.88 L744.58 1734.88 L744.58 1718.36 L752.92 1718.36 L752.92 1685.33 L1026.65 1685.33" stroke="#0000ff"/></g><clipPath id="c10"><rect x="601.5" y="1670.8" width="441.5" height="392.4"/></clipPath><rect x="601.5" y="1670.8" width="441.5" height="392.4" fill="none" stroke="#000" stroke-width="1.9"/><path d="M617.85 2063.2V2072.2M601.5 2048.67H592.5M699.61 2063.2V2072.2M601.5 1976H592.5M781.37 2063.2V2072.2M601.5 1903.33H592.5M863.13 2063.2V2072.2M601.5 1830.67H592.5M944.89 2063.2V2072.2M601.5 1758H592.5M1026.65 2063.2V2072.2M601.5 1685.33H592.5" stroke="#000" stroke-width="1.9" fill="none"/><text x="617.85" y="2096" text-anchor="middle" font-size="17.2">0.0</text><text transform="translate(581.3 2048.67) rotate(-90)" text-anchor="middle" font-size="17.2">0.0</text><text x="699.61" y="2096" text-anchor="middle" font-size="17.2">0.2</text><text transform="translate(581.3 1976) rotate(-90)" text-anchor="middle" font-size="17.2">0.2</text><text x="781.37" y="2096" text-anchor="middle" font-size="17.2">0.4</text><text transform="translate(581.3 1903.33) rotate(-90)" text-anchor="middle" font-size="17.2">0.4</text><text x="863.13" y="2096" text-anchor="middle" font-size="17.2">0.6</text><text transform="translate(581.3 1830.67) rotate(-90)" text-anchor="middle" font-size="17.2">0.6</text><text x="944.89" y="2096" text-anchor="middle" font-size="17.2">0.8</text><text transform="translate(581.3 1758) rotate(-90)" text-anchor="middle" font-size="17.2">0.8</text><text x="1026.65" y="2096" text-anchor="middle" font-size="17.2">1.0</text><text transform="translate(581.3 1685.33) rotate(-90)" text-anchor="middle" font-size="17.2">1.0</text><text x="822.25" y="2120.5" text-anchor="middle" font-size="17.2">False positive rate</text><text transform="translate(556.5 1867) rotate(-90)" text-anchor="middle" font-size="17.2">True positive rate</text></g>
<g><text x="1365.75" y="1643.8" text-anchor="middle" font-weight="bold" font-size="17.2">l) ROC, 2024, Bucharest (Romania)</text><line x1="1145" y1="2063.2" x2="1586.5" y2="1670.8" stroke="#000" stroke-width="1.85" stroke-linecap="round" stroke-dasharray="3.9 9.02" stroke-dashoffset="-1.2"/><g fill="none" stroke-width="3.3" stroke-linejoin="round" stroke-linecap="round" clip-path="url(#c11)"><path d="M1161.35 2048.67 L1161.35 1832.94 L1165.73 1832.94 L1165.73 1798.87 L1179.13 1798.87 L1179.13 1730.75 L1197.33 1730.75 L1197.33 1708.04 L1220.46 1708.04 L1220.46 1696.69 L1275 1696.69 L1275 1685.33 L1570.15 1685.33" stroke="#a9a9a9"/><path d="M1161.35 2048.67 L1161.35 1844.29 L1165.73 1844.29 L1165.73 1832.94 L1179.13 1832.94 L1179.13 1810.23 L1183.96 1810.23 L1183.96 1798.87 L1201.5 1798.87 L1201.5 1787.52 L1215.72 1787.52 L1215.72 1776.17 L1251.61 1776.17 L1251.61 1764.81 L1261.59 1764.81 L1261.59 1753.46 L1265.8 1753.46 L1265.8 1742.1 L1274.59 1742.1 L1274.59 1719.4 L1279.41 1719.4 L1279.41 1708.04 L1297.48 1708.04 L1297.48 1696.69 L1397.88 1696.69 L1397.88 1685.33 L1570.15 1685.33" stroke="#ff0000"/><path d="M1161.35 2048.67 L1161.35 1969.19 L1165.73 1969.19 L1165.73 1957.83 L1174.56 1957.83 L1174.56 1935.12 L1179.13 1935.12 L1179.13 1912.42 L1183.96 1912.42 L1183.96 1889.71 L1192.83 1889.71 L1192.83 1878.35 L1201.5 1878.35 L1201.5 1855.65 L1210.61 1855.65 L1215.93 1844.29 L1220.55 1844.29 L1220.55 1832.94 L1224.72 1832.94 L1224.72 1821.58 L1229.38 1821.58 L1229.38 1810.23 L1238.49 1810.23 L1238.49 1787.52 L1242.5 1764.81 L1251.61 1764.81 L1251.61 1753.46 L1274.59 1753.46 L1274.59 1742.1 L1292.9 1742.1 L1292.9 1730.75 L1306.47 1730.75 L1306.47 1719.4 L1324.46 1719.4 L1324.46 1708.04 L1333.46 1708.04 L1333.46 1696.69 L1388.23 1696.69 L1388.23 1685.33 L1570.15 1685.33" stroke="#006400"/><path d="M1161.35 2048.67 L1161.35 2014.6 L1165.73 2014.6 L1165.73 1969.19 L1179.13 1969.19 L1179.13 1946.48 L1183.96 1946.48 L1183.96 1935.12 L1192.83 1935.12 L1192.83 1923.77 L1197.41 1923.77 L1201.5 1912.42 L1201.5 1901.06 L1215.72 1901.06 L1215.72 1889.71 L1224.72 1889.71 L1224.72 1878.35 L1229.38 1878.35 L1229.38 1855.65 L1275 1855.65 L1275 1832.94 L1283.99 1832.94 L1283.99 1810.23 L1288.49 1810.23 L1288.49 1798.87 L1301.32 1798.87 L1301.32 1764.81 L1319.96 1764.81 L1319.96 1730.75 L1333.46 1730.75 L1333.46 1719.4 L1338.48 1719.4 L1338.48 1708.04 L1406.63 1708.04 L1406.63 1696.69 L1460.84 1696.69 L1570.15 1685.33" stroke="#0000ff"/></g><clipPath id="c11"><rect x="1145" y="1670.8" width="441.5" height="392.4"/></clipPath><rect x="1145" y="1670.8" width="441.5" height="392.4" fill="none" stroke="#000" stroke-width="1.9"/><path d="M1161.35 2063.2V2072.2M1145 2048.67H1136M1243.11 2063.2V2072.2M1145 1976H1136M1324.87 2063.2V2072.2M1145 1903.33H1136M1406.63 2063.2V2072.2M1145 1830.67H1136M1488.39 2063.2V2072.2M1145 1758H1136M1570.15 2063.2V2072.2M1145 1685.33H1136" stroke="#000" stroke-width="1.9" fill="none"/><text x="1161.35" y="2096" text-anchor="middle" font-size="17.2">0.0</text><text transform="translate(1124.8 2048.67) rotate(-90)" text-anchor="middle" font-size="17.2">0.0</text><text x="1243.11" y="2096" text-anchor="middle" font-size="17.2">0.2</text><text transform="translate(1124.8 1976) rotate(-90)" text-anchor="middle" font-size="17.2">0.2</text><text x="1324.87" y="2096" text-anchor="middle" font-size="17.2">0.4</text><text transform="translate(1124.8 1903.33) rotate(-90)" text-anchor="middle" font-size="17.2">0.4</text><text x="1406.63" y="2096" text-anchor="middle" font-size="17.2">0.6</text><text transform="translate(1124.8 1830.67) rotate(-90)" text-anchor="middle" font-size="17.2">0.6</text><text x="1488.39" y="2096" text-anchor="middle" font-size="17.2">0.8</text><text transform="translate(1124.8 1758) rotate(-90)" text-anchor="middle" font-size="17.2">0.8</text><text x="1570.15" y="2096" text-anchor="middle" font-size="17.2">1.0</text><text transform="translate(1124.8 1685.33) rotate(-90)" text-anchor="middle" font-size="17.2">1.0</text><text x="1365.75" y="2120.5" text-anchor="middle" font-size="17.2">False positive rate</text><text transform="translate(1100 1867) rotate(-90)" text-anchor="middle" font-size="17.2">True positive rate</text></g>
<g><text x="278.75" y="2187.2" text-anchor="middle" font-weight="bold" font-size="17.2">m) ROC, 2022, City Of Belgrade (Serbia)</text><line x1="58" y1="2606.6" x2="499.5" y2="2214.2" stroke="#000" stroke-width="1.85" stroke-linecap="round" stroke-dasharray="3.9 9.02" stroke-dashoffset="-1.2"/><g fill="none" stroke-width="3.3" stroke-linejoin="round" stroke-linecap="round" clip-path="url(#c12)"><path d="M74.35 2592.07 L74.35 2349.84 L92.58 2349.84 L92.58 2319.57 L103.99 2319.57 L103.99 2259.01 L107.87 2259.01 L107.87 2228.73 L483.15 2228.73" stroke="#a9a9a9"/><path d="M74.35 2592.07 L74.35 2470.96 L77.62 2470.96 L77.62 2410.4 L92.58 2410.4 L92.58 2349.84 L100.35 2349.84 L100.35 2319.57 L103.99 2319.57 L103.99 2289.29 L129.54 2289.29 L129.54 2259.01 L132.4 2259.01 L137.59 2228.73 L483.15 2228.73" stroke="#ff0000"/><path d="M74.35 2592.07 L85.39 2592.07 L85.39 2501.23 L96.43 2501.23 L96.43 2470.96 L107.87 2470.96 L107.87 2410.4 L111.47 2410.4 L111.47 2380.12 L122.59 2380.12 L122.59 2349.84 L126.47 2349.84 L126.47 2259.01 L156.44 2259.01 L156.44 2228.73 L483.15 2228.73" stroke="#006400"/><path d="M74.35 2592.07 L74.35 2501.23 L96.43 2501.23 L96.43 2470.96 L133.38 2470.96 L133.38 2440.68 L155.87 2440.68 L155.87 2410.4 L159.46 2410.4 L159.46 2380.12 L178.35 2380.12 L178.35 2349.84 L219.47 2349.84 L219.47 2319.57 L226.96 2319.57 L226.96 2289.29 L334.88 2289.29 L334.88 2259.01 L338.03 2259.01 L338.03 2228.73 L483.15 2228.73" stroke="#0000ff"/></g><clipPath id="c12"><rect x="58" y="2214.2" width="441.5" height="392.4"/></clipPath><rect x="58" y="2214.2" width="441.5" height="392.4" fill="none" stroke="#000" stroke-width="1.9"/><path d="M74.35 2606.6V2615.6M58 2592.07H49M156.11 2606.6V2615.6M58 2519.4H49M237.87 2606.6V2615.6M58 2446.73H49M319.63 2606.6V2615.6M58 2374.07H49M401.39 2606.6V2615.6M58 2301.4H49M483.15 2606.6V2615.6M58 2228.73H49" stroke="#000" stroke-width="1.9" fill="none"/><text x="74.35" y="2639.4" text-anchor="middle" font-size="17.2">0.0</text><text transform="translate(37.8 2592.07) rotate(-90)" text-anchor="middle" font-size="17.2">0.0</text><text x="156.11" y="2639.4" text-anchor="middle" font-size="17.2">0.2</text><text transform="translate(37.8 2519.4) rotate(-90)" text-anchor="middle" font-size="17.2">0.2</text><text x="237.87" y="2639.4" text-anchor="middle" font-size="17.2">0.4</text><text transform="translate(37.8 2446.73) rotate(-90)" text-anchor="middle" font-size="17.2">0.4</text><text x="319.63" y="2639.4" text-anchor="middle" font-size="17.2">0.6</text><text transform="translate(37.8 2374.07) rotate(-90)" text-anchor="middle" font-size="17.2">0.6</text><text x="401.39" y="2639.4" text-anchor="middle" font-size="17.2">0.8</text><text transform="translate(37.8 2301.4) rotate(-90)" text-anchor="middle" font-size="17.2">0.8</text><text x="483.15" y="2639.4" text-anchor="middle" font-size="17.2">1.0</text><text transform="translate(37.8 2228.73) rotate(-90)" text-anchor="middle" font-size="17.2">1.0</text><text x="278.75" y="2663.9" text-anchor="middle" font-size="17.2">False positive rate</text><text transform="translate(13 2410.4) rotate(-90)" text-anchor="middle" font-size="17.2">True positive rate</text></g>
<g><text x="822.25" y="2187.2" text-anchor="middle" font-weight="bold" font-size="17.2">n) ROC, 2023, City Of Belgrade (Serbia)</text><line x1="601.5" y1="2606.6" x2="1043" y2="2214.2" stroke="#000" stroke-width="1.85" stroke-linecap="round" stroke-dasharray="3.9 9.02" stroke-dashoffset="-1.2"/><g fill="none" stroke-width="3.3" stroke-linejoin="round" stroke-linecap="round" clip-path="url(#c13)"><path d="M617.85 2592.07 L617.85 2488.26 L624.6 2488.26 L624.6 2332.54 L627.91 2332.54 L627.91 2228.73 L1026.65 2228.73" stroke="#a9a9a9"/><path d="M617.85 2592.07 L617.85 2540.16 L621 2540.16 L621 2384.45 L645.9 2384.45 L645.9 2332.54 L653.42 2332.54 L653.42 2280.64 L677.94 2280.64 L677.94 2228.73 L1026.65 2228.73" stroke="#ff0000"/><path d="M617.85 2592.07 L621.53 2592.07 L621.53 2540.16 L624.6 2540.16 L624.6 2384.45 L678.6 2384.45 L681.62 2332.54 L688.98 2332.54 L688.98 2280.64 L741.55 2280.64 L1026.65 2228.73" stroke="#006400"/><path d="M617.85 2592.07 L631.51 2592.07 L631.51 2488.26 L653.42 2488.26 L653.42 2436.35 L656.4 2436.35 L656.4 2384.45 L681.62 2384.45 L681.62 2332.54 L741.84 2332.54 L741.84 2280.64 L806.92 2280.64 L1026.65 2228.73" stroke="#0000ff"/></g><clipPath id="c13"><rect x="601.5" y="2214.2" width="441.5" height="392.4"/></clipPath><rect x="601.5" y="2214.2" width="441.5" height="392.4" fill="none" stroke="#000" stroke-width="1.9"/><path d="M617.85 2606.6V2615.6M601.5 2592.07H592.5M699.61 2606.6V2615.6M601.5 2519.4H592.5M781.37 2606.6V2615.6M601.5 2446.73H592.5M863.13 2606.6V2615.6M601.5 2374.07H592.5M944.89 2606.6V2615.6M601.5 2301.4H592.5M1026.65 2606.6V2615.6M601.5 2228.73H592.5" stroke="#000" stroke-width="1.9" fill="none"/><text x="617.85" y="2639.4" text-anchor="middle" font-size="17.2">0.0</text><text transform="translate(581.3 2592.07) rotate(-90)" text-anchor="middle" font-size="17.2">0.0</text><text x="699.61" y="2639.4" text-anchor="middle" font-size="17.2">0.2</text><text transform="translate(581.3 2519.4) rotate(-90)" text-anchor="middle" font-size="17.2">0.2</text><text x="781.37" y="2639.4" text-anchor="middle" font-size="17.2">0.4</text><text transform="translate(581.3 2446.73) rotate(-90)" text-anchor="middle" font-size="17.2">0.4</text><text x="863.13" y="2639.4" text-anchor="middle" font-size="17.2">0.6</text><text transform="translate(581.3 2374.07) rotate(-90)" text-anchor="middle" font-size="17.2">0.6</text><text x="944.89" y="2639.4" text-anchor="middle" font-size="17.2">0.8</text><text transform="translate(581.3 2301.4) rotate(-90)" text-anchor="middle" font-size="17.2">0.8</text><text x="1026.65" y="2639.4" text-anchor="middle" font-size="17.2">1.0</text><text transform="translate(581.3 2228.73) rotate(-90)" text-anchor="middle" font-size="17.2">1.0</text><text x="822.25" y="2663.9" text-anchor="middle" font-size="17.2">False positive rate</text><text transform="translate(556.5 2410.4) rotate(-90)" text-anchor="middle" font-size="17.2">True positive rate</text></g>
<g><text x="1365.75" y="2187.2" text-anchor="middle" font-weight="bold" font-size="17.2">o) ROC, 2024, City Of Belgrade (Serbia)</text><line x1="1145" y1="2606.6" x2="1586.5" y2="2214.2" stroke="#000" stroke-width="1.85" stroke-linecap="round" stroke-dasharray="3.9 9.02" stroke-dashoffset="-1.2"/><g fill="none" stroke-width="3.3" stroke-linejoin="round" stroke-linecap="round" clip-path="url(#c14)"><path d="M1161.35 2592.07 L1161.35 2298.61 L1169.98 2298.61 L1169.98 2270.66 L1178.4 2270.66 L1178.4 2228.73 L1570.15 2228.73" stroke="#a9a9a9"/><path d="M1161.35 2592.07 L1161.35 2368.48 L1164.62 2368.48 L1164.62 2354.5 L1173.86 2354.5 L1173.86 2340.53 L1178.4 2340.53 L1178.4 2312.58 L1187.11 2312.58 L1187.11 2298.61 L1199.37 2298.61 L1199.37 2270.66 L1207.55 2270.66 L1207.55 2256.68 L1241.97 2256.68 L1241.97 2242.71 L1318.49 2242.71 L1318.49 2228.73 L1570.15 2228.73" stroke="#ff0000"/><path d="M1161.35 2592.07 L1161.35 2550.14 L1165.48 2550.14 L1165.48 2536.17 L1169.98 2536.17 L1169.98 2522.19 L1173.86 2522.19 L1173.86 2494.25 L1187.11 2494.25 L1187.11 2480.27 L1199.37 2480.27 L1199.37 2466.3 L1203.87 2466.3 L1203.87 2424.37 L1216.54 2424.37 L1216.54 2368.48 L1224.55 2368.48 L1224.55 2354.5 L1229.05 2354.5 L1229.05 2326.55 L1254.88 2326.55 L1254.88 2312.58 L1318.49 2312.58 L1318.49 2298.61 L1322.74 2298.61 L1322.74 2284.63 L1331.82 2284.63 L1331.82 2270.66 L1340.32 2270.66 L1343.39 2256.68 L1343.39 2242.71 L1442.81 2242.71 L1446.49 2228.73 L1570.15 2228.73" stroke="#006400"/><path d="M1161.35 2592.07 L1173.86 2592.07 L1173.86 2564.12 L1182 2564.12 L1182 2550.14 L1187.11 2550.14 L1187.11 2494.25 L1195.49 2494.25 L1195.49 2480.27 L1216.54 2480.27 L1216.54 2424.37 L1220.38 2424.37 L1220.38 2368.48 L1224.55 2368.48 L1224.55 2354.5 L1259.05 2354.5 L1259.05 2340.53 L1271.93 2340.53 L1271.93 2326.55 L1289.51 2326.55 L1289.51 2298.61 L1305.78 2298.61 L1305.78 2284.63 L1331.82 2284.63 L1331.82 2270.66 L1344.62 2270.66 L1344.62 2256.68 L1352.51 2256.68 L1352.51 2242.71 L1370 2242.71 L1370 2228.73 L1570.15 2228.73" stroke="#0000ff"/></g><clipPath id="c14"><rect x="1145" y="2214.2" width="441.5" height="392.4"/></clipPath><rect x="1145" y="2214.2" width="441.5" height="392.4" fill="none" stroke="#000" stroke-width="1.9"/><path d="M1161.35 2606.6V2615.6M1145 2592.07H1136M1243.11 2606.6V2615.6M1145 2519.4H1136M1324.87 2606.6V2615.6M1145 2446.73H1136M1406.63 2606.6V2615.6M1145 2374.07H1136M1488.39 2606.6V2615.6M1145 2301.4H1136M1570.15 2606.6V2615.6M1145 2228.73H1136" stroke="#000" stroke-width="1.9" fill="none"/><text x="1161.35" y="2639.4" text-anchor="middle" font-size="17.2">0.0</text><text transform="translate(1124.8 2592.07) rotate(-90)" text-anchor="middle" font-size="17.2">0.0</text><text x="1243.11" y="2639.4" text-anchor="middle" font-size="17.2">0.2</text><text transform="translate(1124.8 2519.4) rotate(-90)" text-anchor="middle" font-size="17.2">0.2</text><text x="1324.87" y="2639.4" text-anchor="middle" font-size="17.2">0.4</text><text transform="translate(1124.8 2446.73) rotate(-90)" text-anchor="middle" font-size="17.2">0.4</text><text x="1406.63" y="2639.4" text-anchor="middle" font-size="17.2">0.6</text><text transform="translate(1124.8 2374.07) rotate(-90)" text-anchor="middle" font-size="17.2">0.6</text><text x="1488.39" y="2639.4" text-anchor="middle" font-size="17.2">0.8</text><text transform="translate(1124.8 2301.4) rotate(-90)" text-anchor="middle" font-size="17.2">0.8</text><text x="1570.15" y="2639.4" text-anchor="middle" font-size="17.2">1.0</text><text transform="translate(1124.8 2228.73) rotate(-90)" text-anchor="middle" font-size="17.2">1.0</text><text x="1365.75" y="2663.9" text-anchor="middle" font-size="17.2">False positive rate</text><text transform="translate(1100 2410.4) rotate(-90)" text-anchor="middle" font-size="17.2">True positive rate</text></g>
</svg></body></html>
